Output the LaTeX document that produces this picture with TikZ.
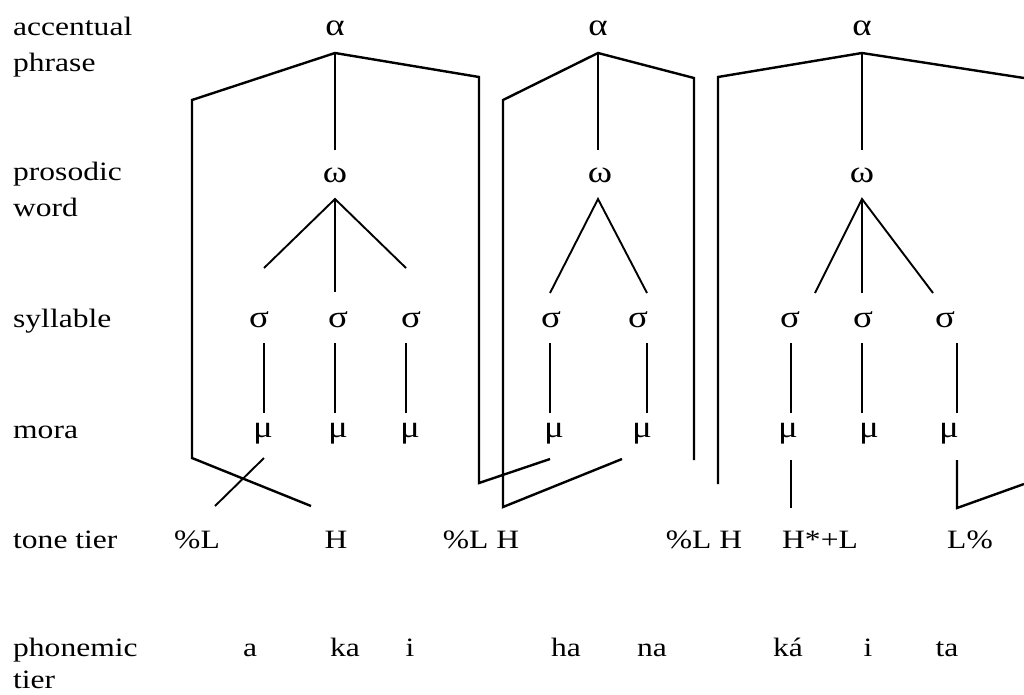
\documentclass[tikz,border=0pt]{standalone}
\usepackage{fontspec}
\setmainfont{Liberation Serif}[FakeStretch=1.19]
\begin{document}
\begin{tikzpicture}[x=1pt,y=-1pt,
  every node/.style={font=\fontsize{26.5}{30}\selectfont, inner sep=0pt},
  lab/.style={anchor=base west},
  sym/.style={anchor=base},
  gk/.style={anchor=base, font=\fontsize{31}{34}\selectfont},
  tree/.style={line width=1.9pt},
  brk/.style={line width=2.4pt, line join=miter},
]
\useasboundingbox (0,0) rectangle (1024,694);

% ---- tier labels ----
\node[lab] (l1a) at (13,35)  {accentual};
\node[lab] (l1b) at (13,71)  {phrase};
\node[lab] (l2a) at (13,180) {prosodic};
\node[lab] (l2b) at (13,216) {word};
\node[lab] (l3)  at (13,327) {syllable};
\node[lab] (l4)  at (13,438) {mora};
\node[lab] (l5)  at (13,548) {tone tier};
\node[lab] (l6a) at (13,656) {phonemic};
\node[lab] (l6b) at (13,688) {tier};

% ---- prosodic symbols ----
\node[gk] (a1) at (335,35) {α};
\node[gk] (a2) at (598,35) {α};
\node[gk] (a3) at (862,35) {α};
\node[gk] (w1) at (335,182) {ω};
\node[gk] (w2) at (600,182) {ω};
\node[gk] (w3) at (862,182) {ω};
\node[gk] (s11) at (259,327) {σ};
\node[gk] (s12) at (338,327) {σ};
\node[gk] (s13) at (411,327) {σ};
\node[gk] (s21) at (551,327) {σ};
\node[gk] (s22) at (638,327) {σ};
\node[gk] (s31) at (790,327) {σ};
\node[gk] (s32) at (863,327) {σ};
\node[gk] (s33) at (945,327) {σ};
\node[gk] (m11) at (263,437) {μ};
\node[gk] (m12) at (338,437) {μ};
\node[gk] (m13) at (410,437) {μ};
\node[gk] (m21) at (554,437) {μ};
\node[gk] (m22) at (642,437) {μ};
\node[gk] (m31) at (788,437) {μ};
\node[gk] (m32) at (869,437) {μ};
\node[gk] (m33) at (949,437) {μ};

% ---- tones ----
\node[sym] (t1) at (197,548) {\%L};
\node[sym] (t2) at (336,548) {H};
\node[sym] (t3) at (481,548) {\%L H};
\node[sym] (t4) at (704,548) {\%L H};
\node[sym] (t5) at (820,548) {H*+L};
\node[sym] (t6) at (970,548) {L\%};

% ---- segments ----
\node[sym] (p1) at (250,656) {a};
\node[sym] (p2) at (345,656) {ka};
\node[sym] (p3) at (410,656) {i};
\node[sym] (p4) at (566,656) {ha};
\node[sym] (p5) at (652,656) {na};
\node[sym] (p6) at (788,656) {ká};
\node[sym] (p7) at (868,656) {i};
\node[sym] (p8) at (947,656) {ta};

% ---- junction points ----
\coordinate (A1) at (335,53);  \coordinate (A1s) at (335,150);
\coordinate (A2) at (598,53);  \coordinate (A2s) at (598,150);
\coordinate (A3) at (862,53);  \coordinate (A3s) at (862,150);
\coordinate (W1) at (335,199); \coordinate (W1l) at (264,268);
\coordinate (W1m) at (335,292); \coordinate (W1r) at (406,268);
\coordinate (W2) at (598,199); \coordinate (W2l) at (550,293);
\coordinate (W2r) at (647,293);
\coordinate (W3) at (862,199); \coordinate (W3l) at (815,293);
\coordinate (W3m) at (862,293); \coordinate (W3r) at (933,293);

% bracket corners
\coordinate (B1a) at (311,506); \coordinate (B1b) at (192,458);
\coordinate (B1c) at (192,100); \coordinate (B1d) at (479,77);
\coordinate (B1e) at (479,483); \coordinate (B1f) at (550,459);
\coordinate (B2a) at (622,459); \coordinate (B2b) at (503,507);
\coordinate (B2c) at (503,100); \coordinate (B2d) at (694,78);
\coordinate (B2e) at (694,460);
\coordinate (B3a) at (718,484); \coordinate (B3b) at (718,77);
\coordinate (B3c) at (1024,78);

% mora-to-tone links
\coordinate (M11) at (264,458); \coordinate (T11) at (215,506);
\coordinate (M31t) at (791,460); \coordinate (M31b) at (791,508);
\coordinate (M33t) at (957,460); \coordinate (M33b) at (957,508);
\coordinate (M33r) at (1024,484);

% ---- accentual phrase brackets ----
\draw[brk] (B1a) -- (B1b) -- (B1c) -- (A1) -- (B1d) -- (B1e) -- (B1f);
\draw[brk] (B2a) -- (B2b) -- (B2c) -- (A2) -- (B2d) -- (B2e);
\draw[brk] (B3a) -- (B3b) -- (A3) -- (B3c);

% ---- phrase to word ----
\foreach \i in {1,2,3} \draw[tree] (A\i) -- (A\i s);

% ---- word to syllable ----
\draw[tree] (W1l) -- (W1) -- (W1r);  \draw[tree] (W1) -- (W1m);
\draw[tree] (W2l) -- (W2) -- (W2r);
\draw[tree] (W3l) -- (W3) -- (W3r);  \draw[tree] (W3) -- (W3m);

% ---- syllable to mora ----
\foreach \x/\t in {264/343,335/343,406/343,550/343,647/343,791/343,862/343,957/343}
  \draw[tree] (\x,\t) -- (\x,413);

% ---- mora to tone ----
\draw[tree] (M11) -- (T11);
\draw[brk] (M31t) -- (M31b);
\draw[brk] (M33t) -- (M33b) -- (M33r);
\end{tikzpicture}
\end{document}
